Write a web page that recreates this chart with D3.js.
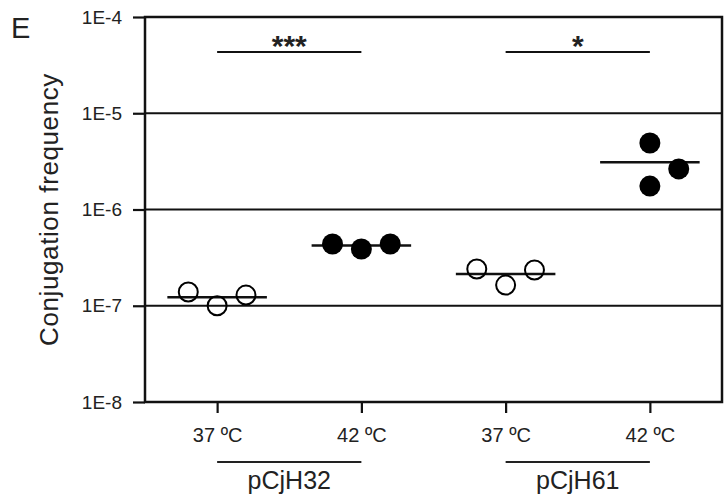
<!DOCTYPE html>
<meta charset="utf-8">
<style>
body { margin: 0; background: #fff; }
svg text { font-family: Arial, "Liberation Sans", sans-serif; fill: #222; }
</style>
<body>
<svg width="727" height="496" id="chart"></svg>
<script src="https://cdn.jsdelivr.net/npm/d3@7"></script>
<script>

// categories along the x axis
var conditions = ["pCjH32 37", "pCjH32 42", "pCjH61 37", "pCjH61 42"];
var tickLabels = ["37 ºC", "42 ºC", "37 ºC", "42 ºC"];
var filled = [false, true, false, true];

// replicate values (conjugation frequency), three per condition
var pCjH32_37 = [1.39e-7, 1.00e-7, 1.29e-7];
var pCjH32_42 = [4.38e-7, 3.89e-7, 4.38e-7];
var pCjH61_37 = [2.41e-7, 1.64e-7, 2.35e-7];
var pCjH61_42 = [4.91e-6, 2.64e-6, 1.75e-6];
var replicates = [pCjH32_37, pCjH32_42, pCjH61_37, pCjH61_42];

var yTicks = [1e-8, 1e-7, 1e-6, 1e-5, 1e-4];
var gridValues = [1e-7, 1e-6, 1e-5];

var plasmids = ["pCjH32", "pCjH61"];
var plasmidSpan = [["pCjH32 37", "pCjH32 42"], ["pCjH61 37", "pCjH61 42"]];
var signif = ["***", "*"];

var mLeft = 145, mRight = 722, mTop = 17, mBottom = 402;

var svg = d3.select("#chart");

var x = d3.scalePoint().domain(conditions).range([mLeft, mRight]).padding(0.5);
var y = d3.scaleLog().domain([1e-8, 1e-4]).range([mBottom, mTop]);
var step = x.step();

// horizontal reference lines
svg.selectAll(".grid")
    .data(gridValues)
  .enter().append("line")
    .attr("x1", mLeft).attr("x2", mRight)
    .attr("y1", function(d) { return y(d); })
    .attr("y2", function(d) { return y(d); })
    .attr("stroke", "#111")
    .attr("stroke-width", 2.2);

// frame
svg.append("rect")
    .attr("x", mLeft).attr("y", mTop)
    .attr("width", mRight - mLeft).attr("height", mBottom - mTop)
    .attr("fill", "none")
    .attr("stroke", "#111")
    .attr("stroke-width", 2.5);

// y axis
var yAxis = d3.axisLeft(y)
    .tickValues(yTicks)
    .tickSize(12)
    .tickPadding(11)
    .tickFormat(function(d) { return "1E" + Math.round(Math.log10(d)); });

var gy = svg.append("g").attr("transform", "translate(" + mLeft + ",0)").call(yAxis);
gy.select(".domain").remove();
gy.selectAll("line").attr("stroke", "#111").attr("stroke-width", 2.2);
gy.selectAll("text").attr("font-size", 19).attr("fill", "#222");

// x axis
var xAxis = d3.axisBottom(x)
    .tickSize(11)
    .tickPadding(15)
    .tickFormat(function(d, i) { return tickLabels[i]; });

var gx = svg.append("g").attr("transform", "translate(0," + mBottom + ")").call(xAxis);
gx.select(".domain").remove();
gx.selectAll("line").attr("stroke", "#111").attr("stroke-width", 2.2);
gx.selectAll("text").attr("font-size", 20).attr("fill", "#222");

// plasmid brackets under the axis
plasmids.forEach(function(p, i) {
  var x0 = x(plasmidSpan[i][0]), x1 = x(plasmidSpan[i][1]);
  svg.append("line")
      .attr("x1", x0).attr("x2", x1)
      .attr("y1", 462).attr("y2", 462)
      .attr("stroke", "#222").attr("stroke-width", 2);
  svg.append("text")
      .attr("x", (x0 + x1) / 2).attr("y", 489)
      .attr("text-anchor", "middle")
      .attr("font-size", 25)
      .text(p);
});

// significance bars
plasmids.forEach(function(p, i) {
  var x0 = x(plasmidSpan[i][0]), x1 = x(plasmidSpan[i][1]);
  svg.append("line")
      .attr("x1", x0).attr("x2", x1)
      .attr("y1", mTop + 35).attr("y2", mTop + 35)
      .attr("stroke", "#111").attr("stroke-width", 2.2);
  svg.append("text")
      .attr("x", (x0 + x1) / 2).attr("y", mTop + 39)
      .attr("text-anchor", "middle")
      .attr("font-size", 30)
      .attr("font-weight", "bold")
      .attr("fill", "#111")
      .text(signif[i]);
});

// points, spread sideways within each condition
var offsets = [[-1, 0, 1], [-1, 0, 1], [-1, 0, 1], [0, 1, 0]];
var points = [];
conditions.forEach(function(c, i) {
  replicates[i].forEach(function(v, j) {
    points.push({cond: c, value: v, off: offsets[i][j], filled: filled[i]});
  });
});

// mean lines
svg.selectAll(".mean")
    .data(conditions)
  .enter().append("line")
    .attr("x1", function(d) { return x(d) - step * 0.345; })
    .attr("x2", function(d) { return x(d) + step * 0.345; })
    .attr("y1", function(d, i) { return y(d3.mean(replicates[i])); })
    .attr("y2", function(d, i) { return y(d3.mean(replicates[i])); })
    .attr("stroke", "#111")
    .attr("stroke-width", 2.5);

svg.selectAll(".pt")
    .data(points)
  .enter().append("circle")
    .attr("cx", function(d) { return x(d.cond) + d.off * step * 0.2; })
    .attr("cy", function(d) { return y(d.value); })
    .attr("r", function(d) { return d.filled ? 10.5 : 9.5; })
    .attr("fill", function(d) { return d.filled ? "#000" : "#fff"; })
    .attr("fill-opacity", function(d) { return d.filled ? 1 : 0; })
    .attr("stroke", "#000")
    .attr("stroke-width", function(d) { return d.filled ? 0 : 2; });

// y title
svg.append("text")
    .attr("transform", "translate(58," + ((mTop + mBottom) / 2) + ") rotate(-90)")
    .attr("text-anchor", "middle")
    .attr("font-size", 26)
    .attr("letter-spacing", 0.6)
    .text("Conjugation frequency");

// panel letter
svg.append("text")
    .attr("x", 11).attr("y", 38)
    .attr("font-size", 29)
    .text("E");

</script>
</body>
